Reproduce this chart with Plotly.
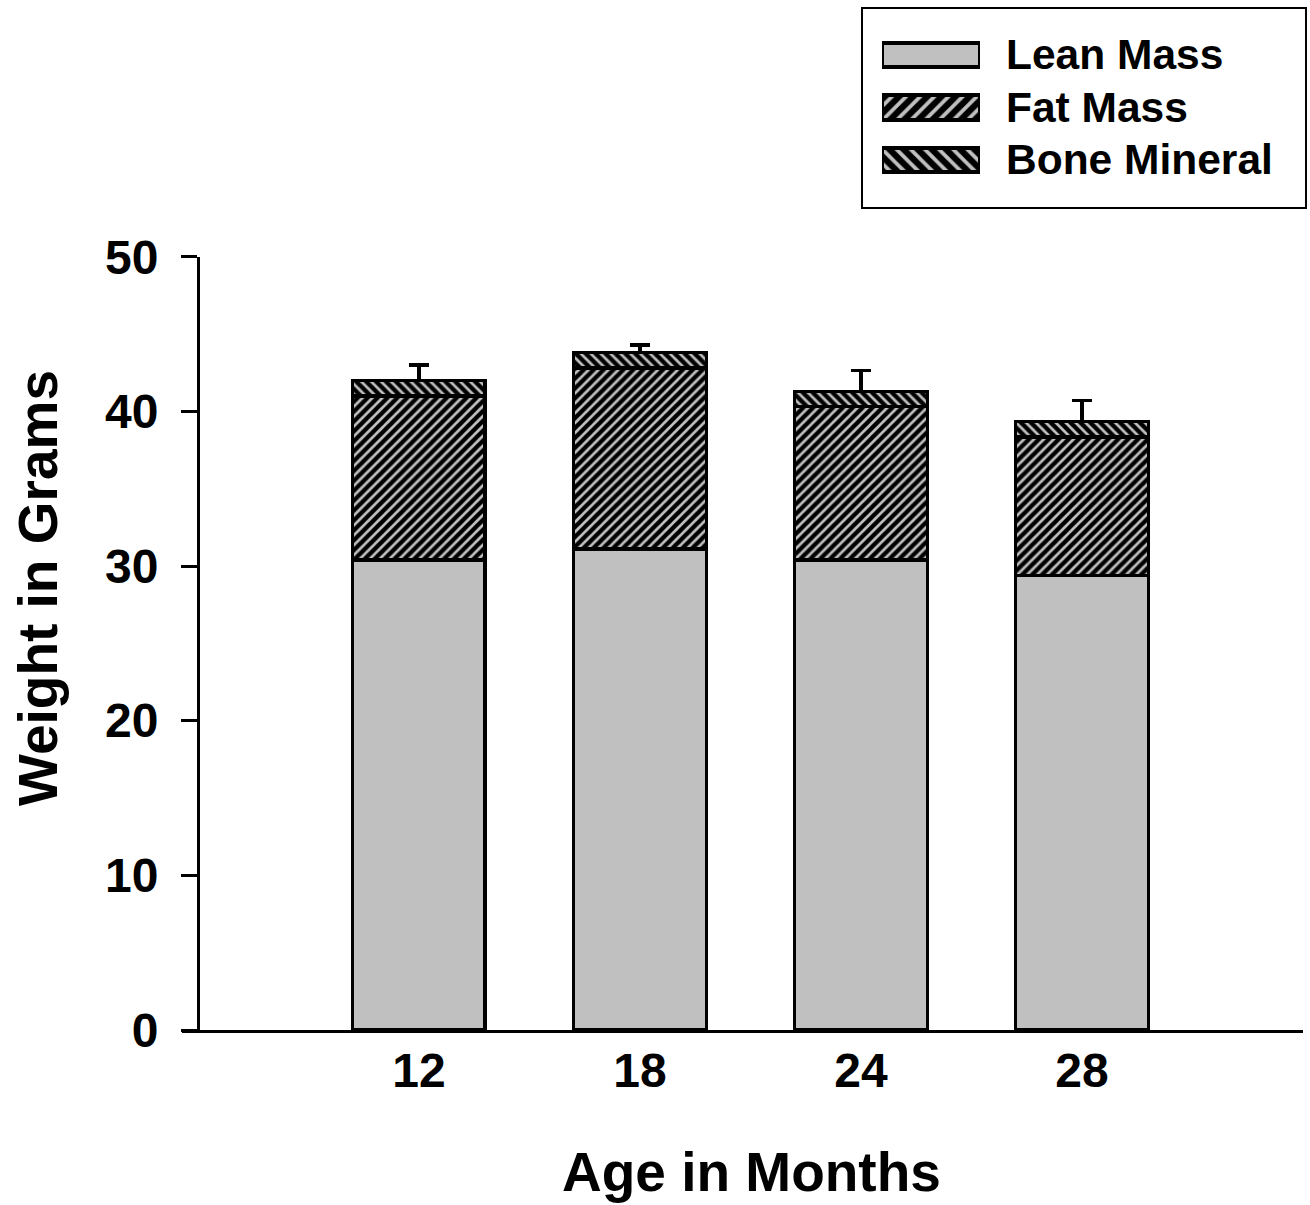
import plotly.graph_objects as go

# Body composition by age (grams)
ages = ["12", "18", "24", "28"]
lean_mass = [30.4, 31.1, 30.4, 29.4]
fat_mass = [10.6, 11.7, 9.9, 8.95]
bone_mineral = [1.0, 1.0, 1.0, 1.0]
total_sem = [1.0, 0.5, 1.35, 1.35]

series_names = ["Lean Mass", "Fat Mass", "Bone Mineral"]
y_ticks = [0, 10, 20, 30, 40, 50]

W, H = 1310, 1205
FONT = "Liberation Sans, Arial, Helvetica, sans-serif"
GRAY = "#c0c0c0"


def px(x):
    return x / W


def py(y):
    return 1 - y / H


def hatch(shape, size):
    return dict(shape=shape, bgcolor=GRAY, fgcolor="black", size=size,
                solidity=0.62, fillmode="replace")


edge = dict(color="black", width=3.5)

fig = go.Figure()
fig.add_trace(go.Bar(x=ages, y=lean_mass, name=series_names[0], width=0.6,
                     marker=dict(color=GRAY, line=edge)))
fig.add_trace(go.Bar(x=ages, y=fat_mass, name=series_names[1], width=0.6,
                     marker=dict(color=GRAY, pattern=hatch("/", 7), line=edge)))
fig.add_trace(go.Bar(x=ages, y=bone_mineral, name=series_names[2], width=0.6,
                     marker=dict(color=GRAY, pattern=hatch("\\", 7), line=edge),
                     error_y=dict(type="data", array=total_sem, arrayminus=[0] * len(total_sem),
                                  symmetric=False, color="black", thickness=3.5, width=10)))

# legend swatches on their own small axes
swatch_edge = dict(color="black", width=4)
swatch_markers = [
    dict(color=GRAY, line=swatch_edge),
    dict(color=GRAY, pattern=hatch("/", 10), line=swatch_edge),
    dict(color=GRAY, pattern=hatch("\\", 10), line=swatch_edge),
]
for i, mk in enumerate(swatch_markers):
    fig.add_trace(go.Bar(x=[1], y=[i], orientation="h", width=0.46, marker=mk,
                         xaxis="x2", yaxis="y2", showlegend=False, hoverinfo="skip"))

fig.update_layout(
    width=W, height=H, autosize=False,
    template="none",
    barmode="stack",
    showlegend=False,
    paper_bgcolor="white", plot_bgcolor="rgba(0,0,0,0)",
    margin=dict(l=0, r=0, t=0, b=0, pad=0),
    font=dict(family=FONT, color="black", size=48, weight="bold"),
    xaxis=dict(domain=[px(182), px(1303)], range=[-1.072, 4.0], type="category",
               showline=True, linecolor="black", linewidth=3, showgrid=False, zeroline=False,
               ticks="", ticklabelstandoff=-4,
               tickfont=dict(size=48, family=FONT, weight="bold"), automargin=False,
               anchor="y"),
    yaxis=dict(domain=[py(1030), py(256.7)], range=[0, 50], tickvals=y_ticks,
               anchor="free", position=px(198),
               showline=True, linecolor="black", linewidth=3, showgrid=False, zeroline=False,
               ticks="outside", ticklen=16, tickwidth=3, tickcolor="black",
               ticklabelstandoff=13,
               tickfont=dict(size=48, family=FONT, weight="bold"), automargin=False),
    xaxis2=dict(domain=[px(882), px(980)], range=[0, 1], visible=False, anchor="y2"),
    yaxis2=dict(domain=[py(186.25), py(28.75)], range=[2.5, -0.5], visible=False, anchor="x2"),
)

# legend frame and labels
fig.add_shape(type="rect", xref="paper", yref="paper",
              x0=px(862), x1=px(1306), y0=py(208), y1=py(8),
              line=dict(color="black", width=2), fillcolor="rgba(0,0,0,0)", layer="below")
for name, yc in zip(series_names, [55, 107, 160]):
    fig.add_annotation(text=name, xref="paper", yref="paper", x=px(1004), y=py(yc),
                       xanchor="left", yanchor="middle", showarrow=False,
                       font=dict(size=42.5, family=FONT, weight="bold"))

# axis titles
fig.add_annotation(text="Weight in Grams", xref="paper", yref="paper", x=px(38), y=py(588),
                   textangle=-90, xanchor="center", yanchor="middle", showarrow=False,
                   font=dict(size=55, family=FONT, weight="bold"))
fig.add_annotation(text="Age in Months", xref="paper", yref="paper", x=px(751), y=py(1172),
                   xanchor="center", yanchor="middle", showarrow=False,
                   font=dict(size=55, family=FONT, weight="bold"))

fig.write_html("out.html")
